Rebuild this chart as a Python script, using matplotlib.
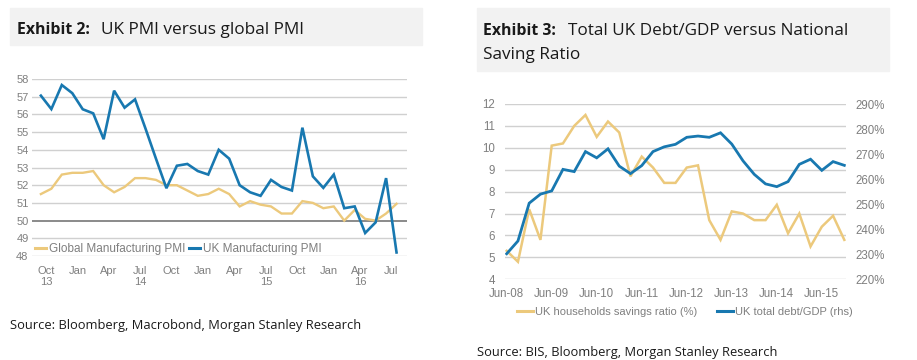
import matplotlib
matplotlib.use("Agg")
import matplotlib.pyplot as plt
import matplotlib.patches as mpatches
from matplotlib.ticker import FuncFormatter, FixedLocator
import numpy as np

# ---------------- data ----------------
pmi_months = ["Oct-13", "Nov-13", "Dec-13", "Jan-14", "Feb-14", "Mar-14", "Apr-14", "May-14",
              "Jun-14", "Jul-14", "Aug-14", "Sep-14", "Oct-14", "Nov-14", "Dec-14", "Jan-15",
              "Feb-15", "Mar-15", "Apr-15", "May-15", "Jun-15", "Jul-15", "Aug-15", "Sep-15",
              "Oct-15", "Nov-15", "Dec-15", "Jan-16", "Feb-16", "Mar-16", "Apr-16", "May-16",
              "Jun-16", "Jul-16", "Aug-16"]
uk_pmi = [57.06, 56.3, 57.66, 57.2, 56.29, 56.06, 54.6, 57.34, 56.38, 56.85, 55.2, 53.5,
          51.83, 53.1, 53.2, 52.8, 52.6, 54.0, 53.5, 52.0, 51.6, 51.4, 52.3, 51.9, 51.7,
          55.25, 52.5, 51.85, 52.6, 50.7, 50.8, 49.3, 49.9, 52.4, 48.2]
global_pmi = [51.5, 51.8, 52.6, 52.7, 52.7, 52.8, 52.0, 51.6, 51.9, 52.4, 52.4, 52.3, 52.0,
              52.0, 51.7, 51.4, 51.5, 51.8, 51.5, 50.8, 51.1, 50.9, 50.8, 50.4, 50.4, 51.1,
              51.0, 50.7, 50.8, 50.0, 50.6, 50.1, 50.0, 50.4, 50.95]
pmi_tick_labels = ["Oct\n13", "Jan", "Apr", "Jul\n14", "Oct", "Jan", "Apr", "Jul\n15",
                   "Oct", "Jan", "Apr\n16", "Jul"]

debt_quarters = ["Jun-08", "Sep-08", "Dec-08", "Mar-09", "Jun-09", "Sep-09", "Dec-09", "Mar-10",
                 "Jun-10", "Sep-10", "Dec-10", "Mar-11", "Jun-11", "Sep-11", "Dec-11", "Mar-12",
                 "Jun-12", "Sep-12", "Dec-12", "Mar-13", "Jun-13", "Sep-13", "Dec-13", "Mar-14",
                 "Jun-14", "Sep-14", "Dec-14", "Mar-15", "Jun-15", "Sep-15", "Dec-15"]
savings_ratio = [5.3, 4.8, 7.2, 5.8, 10.1, 10.2, 11.0, 11.5, 10.5, 11.2, 10.7, 8.7, 9.6, 9.1,
                 8.4, 8.4, 9.1, 9.2, 6.7, 5.8, 7.1, 7.0, 6.7, 6.7, 7.4, 6.1, 7.0, 5.5, 6.4,
                 6.9, 5.8]
debt_gdp = [230.2, 235.3, 250.4, 254.0, 255.3, 263.9, 263.0, 271.0, 268.5, 272.1, 265.2, 262.2,
            265.4, 271.0, 272.9, 273.9, 276.7, 277.2, 276.7, 278.5, 274.0, 267.3, 261.9, 258.1,
            257.0, 259.0, 265.9, 267.95, 263.5, 267.0, 265.5]
debt_tick_labels = ["Jun-08", "Jun-09", "Jun-10", "Jun-11", "Jun-12", "Jun-13", "Jun-14", "Jun-15"]

# ---------------- style ----------------
BLUE = "#1878b0"
YELLOW = "#ecc97c"
GRID = "#d0d0d0"
TICKC = "#7f7f7f"
BOXC = "#f2f2f2"
TICKFONT = "Liberation Sans"
TITLEFONT = "Open Sans"

W, H = 917, 360
fig = plt.figure(figsize=(W / 100, H / 100), dpi=100)


def fx(px):
    return px / W


def fy(py):
    return 1 - py / H


def axes_px(x0, y0, x1, y1):
    return fig.add_axes([fx(x0), fy(y1), (x1 - x0) / W, (y1 - y0) / H])


renderer = fig.canvas.get_renderer()


def title(x, y, bold, rest, size, bold_size, gap_px):
    t1 = fig.text(fx(x), fy(y), bold, fontsize=bold_size, fontweight="bold",
                  family=TITLEFONT, color="#1a1a1a", va="baseline", ha="left")
    bb = t1.get_window_extent(renderer=renderer)
    fig.text((bb.x1 + gap_px) / W, fy(y), rest, fontsize=size, family=TITLEFONT,
             color="#1a1a1a", va="baseline", ha="left")


# title boxes
fig.patches.append(mpatches.Rectangle((fx(10), fy(45)), (422 - 10) / W, (45 - 8) / H,
                                      transform=fig.transFigure, color=BOXC, zorder=0))
fig.patches.append(mpatches.Rectangle((fx(477), fy(71)), (889 - 477) / W, (71 - 8) / H,
                                      transform=fig.transFigure, color=BOXC, zorder=0))

title(17, 34, "Exhibit 2:", "UK PMI versus global PMI", 12.4, 11.4, 11)
title(483, 35, "Exhibit 3:", "Total UK Debt/GDP versus National", 12.3, 11.4, 12)
fig.text(fx(483), fy(59), "Saving Ratio", fontsize=12.3, family=TITLEFONT,
         color="#1a1a1a", va="baseline", ha="left")

fig.text(fx(10), fy(329), "Source: Bloomberg, Macrobond, Morgan Stanley Research",
         fontsize=9.3, family=TITLEFONT, color="#1a1a1a", va="baseline", ha="left")
fig.text(fx(477), fy(356), "Source: BIS, Bloomberg, Morgan Stanley Research",
         fontsize=9.25, family=TITLEFONT, color="#1a1a1a", va="baseline", ha="left")

# ---------------- left chart ----------------
ax1 = axes_px(32, 79, 407, 256)
x1 = np.arange(len(pmi_months))
ax1.set_xlim(-0.85, 35.0)
ax1.set_ylim(48, 58)
for v in range(48, 59):
    ax1.axhline(v, color="#8a8a8a" if v == 50 else GRID, lw=1.4 if v == 50 else 1.0,
                zorder=1)
ax1.plot(x1, global_pmi, color=YELLOW, lw=1.7, zorder=3, label="Global Manufacturing PMI",
         solid_joinstyle="miter")
ax1.plot(x1, uk_pmi, color=BLUE, lw=1.9, zorder=4, label="UK Manufacturing PMI",
         solid_joinstyle="miter")
ax1.set_yticks(range(48, 59))
ax1.xaxis.set_major_locator(FixedLocator(np.arange(len(pmi_tick_labels)) * 3 + 0.5))
ax1.set_xticklabels(pmi_tick_labels, linespacing=1.15)
for s in ax1.spines.values():
    s.set_visible(False)
ax1.tick_params(axis="both", length=0, labelsize=8.0, labelcolor=TICKC)
ax1.tick_params(axis="y", pad=2.5)
ax1.tick_params(axis="x", pad=7)
for lab in ax1.get_xticklabels() + ax1.get_yticklabels():
    lab.set_family(TICKFONT)
leg1 = ax1.legend(loc="center left", bbox_to_anchor=(0.008, 0.04), ncol=2, frameon=False,
                  borderpad=0, borderaxespad=0, handlelength=0.9, handletextpad=0.28,
                  columnspacing=0.35, prop={"family": TICKFONT, "size": 8.5})
for t in leg1.get_texts():
    t.set_color(TICKC)
for l in leg1.get_lines():
    l.set_linewidth(2.2)

# ---------------- right chart ----------------
ax2 = axes_px(505, 104, 846, 279.3)
x2 = np.arange(len(debt_quarters))
ax2.set_xlim(-0.15, 30.15)
ax2.set_ylim(4, 12)
for v in range(4, 13):
    ax2.axhline(v, color=GRID, lw=1.0, zorder=1)
ax2b = ax2.twinx()
ax2b.set_ylim(220, 290)
l_sav, = ax2.plot(x2, savings_ratio, color=YELLOW, lw=1.8, zorder=3,
                  label="UK households savings ratio (%)", solid_joinstyle="miter")
l_debt, = ax2b.plot(x2, debt_gdp, color=BLUE, lw=2.0, zorder=4,
                    label="UK total debt/GDP (rhs)", solid_joinstyle="miter")
ax2.set_yticks(range(4, 13))
ax2b.set_yticks(range(220, 291, 10))
ax2b.yaxis.set_major_formatter(FuncFormatter(lambda v, p: f"{v:.0f}%"))
ax2.set_xticks(np.arange(len(debt_tick_labels)) * 4)
ax2.set_xticklabels(debt_tick_labels)
for a in (ax2, ax2b):
    for s in a.spines.values():
        s.set_visible(False)
    a.tick_params(axis="both", length=0, labelsize=8.3, labelcolor=TICKC)
    for lab in a.get_xticklabels() + a.get_yticklabels():
        lab.set_family(TICKFONT)
ax2.tick_params(axis="y", pad=7)
ax2b.tick_params(axis="y", pad=6.5)
ax2.tick_params(axis="x", pad=6)
leg2 = ax2.legend(handles=[l_sav, l_debt], loc="center left", bbox_to_anchor=(0.035, -0.187),
                  ncol=2, frameon=False, borderpad=0, borderaxespad=0, handlelength=1.45,
                  handletextpad=0.17, columnspacing=1.75,
                  prop={"family": TICKFONT, "size": 8.0})
for t in leg2.get_texts():
    t.set_color(TICKC)
for l in leg2.get_lines():
    l.set_linewidth(2.2)

fig.savefig("out.png", dpi=100)
